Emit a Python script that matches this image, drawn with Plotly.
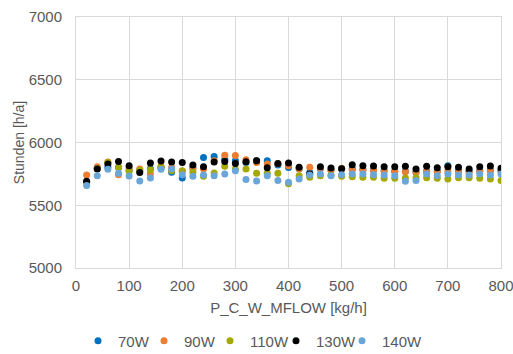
import plotly.graph_objects as go

x_vals = list(range(20, 801, 20))

w70 = [5690, 5795, 5802, 5800, 5780, 5775, 5790, 5800, 5762, 5718, 5800, 5880, 5888, 5866, 5854, 5840,
       5854, 5854, 5820, 5800, 5790, 5760, 5790, 5780, 5790, 5790, 5785, 5780, 5775, 5770, 5770, 5765,
       5770, 5770, 5815, 5775, 5770, 5775, 5780, 5775]
w90 = [5742, 5807, 5845, 5744, 5800, 5789, 5749, 5810, 5800, 5770, 5789, 5789, 5855, 5899, 5896, 5862,
       5840, 5828, 5830, 5815, 5790, 5802, 5796, 5781, 5794, 5781, 5781, 5778, 5772, 5767, 5767, 5762,
       5767, 5767, 5772, 5767, 5762, 5770, 5770, 5770]
w110 = [5680, 5790, 5841, 5802, 5770, 5780, 5783, 5802, 5774, 5774, 5762, 5731, 5757, 5810, 5789, 5789,
        5755, 5755, 5755, 5671, 5736, 5723, 5736, 5740, 5731, 5728, 5723, 5723, 5715, 5715, 5717, 5720,
        5720, 5715, 5710, 5720, 5720, 5715, 5710, 5697]
w130 = [5692, 5789, 5828, 5849, 5815, 5760, 5836, 5852, 5844, 5841, 5820, 5807, 5844, 5849, 5833, 5847,
        5854, 5799, 5833, 5836, 5802, 5749, 5807, 5797, 5790, 5823, 5815, 5812, 5807, 5807, 5810, 5789,
        5810, 5799, 5807, 5802, 5789, 5807, 5812, 5794]
w140 = [5657, 5736, 5786, 5755, 5734, 5694, 5718, 5786, 5789, 5744, 5731, 5741, 5736, 5749, 5774, 5705,
        5694, 5736, 5697, 5684, 5710, 5741, 5749, 5736, 5744, 5749, 5749, 5744, 5741, 5736, 5692, 5697,
        5749, 5736, 5749, 5741, 5741, 5749, 5741, 5749]

series = [
    ("70W", w70, "#0070C0"),
    ("90W", w90, "#ED7D31"),
    ("110W", w110, "#A5A800"),
    ("130W", w130, "#000000"),
    ("140W", w140, "#6BA6D8"),
]

fig = go.Figure()
for name, vals, color in series:
    fig.add_trace(go.Scatter(x=x_vals, y=vals, mode="markers", name=name,
                             marker=dict(color=color, size=7, line=dict(width=0))))
# empty spacer entry so the last legend label is not clipped by the fixed entry width
fig.add_trace(go.Scatter(x=[None], y=[None], mode="markers", name=" ", hoverinfo="skip",
                         marker=dict(color="rgba(0,0,0,0)", size=1)))

W, H = 513, 354
fam = "Liberation Sans, Arial, sans-serif"
fig.update_layout(
    width=W, height=H,
    margin=dict(l=75.6, r=W - 500.6, t=16.9, b=H - 267.7, autoexpand=False),
    paper_bgcolor="white", plot_bgcolor="white",
    font=dict(family=fam, color="#595959", size=15),
    showlegend=True,
    legend=dict(orientation="h", x=78 / W, xref="container", xanchor="left",
                y=1 - 341 / H, yref="container", yanchor="middle",
                font=dict(family=fam, size=15, color="#595959"), itemwidth=30, tracegroupgap=0,
                entrywidth=21),
)
fig.update_xaxes(range=[0, 800], dtick=100, tick0=0, showgrid=True, gridcolor="#D9D9D9", gridwidth=1,
                 zeroline=False, showline=True, linecolor="#D9D9D9", mirror=True, ticks="",
                 automargin=False, ticklabelstandoff=4, ticklabeloverflow="allow",
                 tickfont=dict(size=15, color="#595959"),
                 title=dict(text="P_C_W_MFLOW [kg/h]", font=dict(size=15, color="#595959"), standoff=9))
fig.update_yaxes(range=[5000, 7000], dtick=500, showgrid=True, gridcolor="#D9D9D9", gridwidth=1,
                 zeroline=False, showline=True, linecolor="#D9D9D9", mirror=True, ticks="",
                 automargin=False, ticklabelstandoff=10, tickfont=dict(size=15, color="#595959"),
                 title=dict(text="Stunden [h/a]", font=dict(size=14, color="#595959"), standoff=0))

# remove the browser's default 8px page margin so the figure fills the window exactly
fig.write_html("out.html", config={"displayModeBar": False},
               post_script="document.body.style.margin='0';document.body.style.overflow='hidden';")
